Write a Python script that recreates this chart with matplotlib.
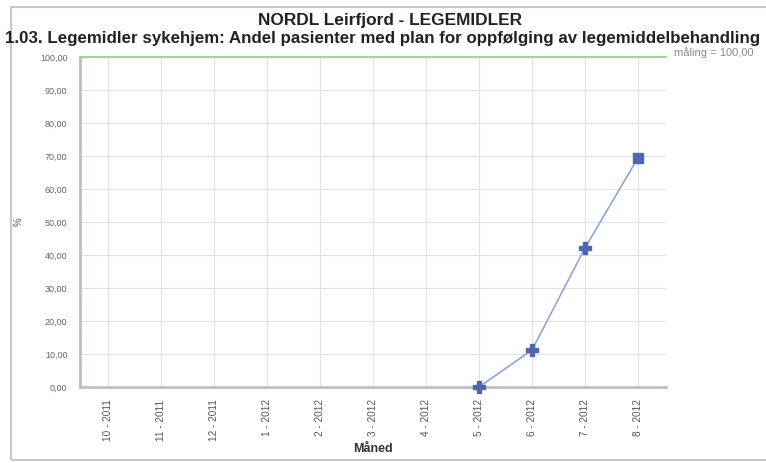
import matplotlib
matplotlib.use("Agg")
import matplotlib.pyplot as plt
from matplotlib.patches import Rectangle

months = ["10 - 2011", "11 - 2011", "12 - 2011", "1 - 2012", "2 - 2012", "3 - 2012",
          "4 - 2012", "5 - 2012", "6 - 2012", "7 - 2012", "8 - 2012"]
# values only exist from 5 - 2012
data_idx = [7, 8, 9, 10]
values = [0.0, 11.2, 42.1, 69.4]
target = 100.0
yticks = [0, 10, 20, 30, 40, 50, 60, 70, 80, 90, 100]

plt.rcParams["font.family"] = ["Liberation Sans", "DejaVu Sans"]

W, H = 766, 463
fig = plt.figure(figsize=(W / 100, H / 100), dpi=100)
ax = fig.add_axes([80 / W, 1 - 387 / H, (666 - 80) / W, (387 - 57) / H])

ax.plot(data_idx, values, color="#8aa6dc", lw=1.2, zorder=3, clip_on=False)
ax.plot(data_idx[:3], values[:3], ls="none", marker="P", ms=8, color="#4a67b0",
        zorder=4, clip_on=False)
ax.plot(data_idx[3:], values[3:], ls="none", marker="s", ms=6.5, color="#4a67b0",
        zorder=4, clip_on=False)
ax.axhline(target, color="#9fd49a", lw=1.5, zorder=5, clip_on=False)

ax.set_xlim(-0.53, 10.53)
ax.set_ylim(0, 100)
ax.set_yticks(yticks)
ax.set_yticklabels([f"{v:.2f}".replace(".", ",") for v in yticks], fontsize=6.5, color="#666666")
ax.set_xticks(range(len(months)))
ax.set_xticklabels(months, rotation=90, fontsize=7.2, color="#555555")
ax.tick_params(axis="y", length=0, pad=9)
ax.tick_params(axis="x", length=0, pad=9)
ax.grid(True, color="#e2e2e2", lw=0.8)
ax.set_axisbelow(True)
for s in ["top", "right"]:
    ax.spines[s].set_visible(False)
for s in ["left", "bottom"]:
    ax.spines[s].set_color("#bcc0c8")
    ax.spines[s].set_linewidth(2)

ax.set_ylabel("%", fontsize=7, color="#555555", rotation=90, labelpad=12)
ax.set_xlabel("Måned", fontsize=9, fontweight="bold", color="#333333", labelpad=1)

fig.text(390 / W, 1 - 20 / H, "NORDL Leirfjord - LEGEMIDLER", ha="center", va="center",
         fontsize=12.4, fontweight="bold", color="#222222")
fig.text(5 / W, 1 - 38 / H,
         "1.03. Legemidler sykehjem: Andel pasienter med plan for oppfølging av legemiddelbehandling",
         ha="left", va="center", fontsize=12.2, fontweight="bold", color="#222222")
fig.text(674 / W, 1 - 53 / H, "måling = 100,00", ha="left", va="center",
         fontsize=8, color="#8a8a8a")

fig.patches.append(Rectangle((11 / W, 3 / H), (W + 10) / W, (460 - 7) / H,
                             transform=fig.transFigure, fill=False,
                             edgecolor="#c8c8c8", lw=1.5))

fig.savefig("out.png", dpi=100)
